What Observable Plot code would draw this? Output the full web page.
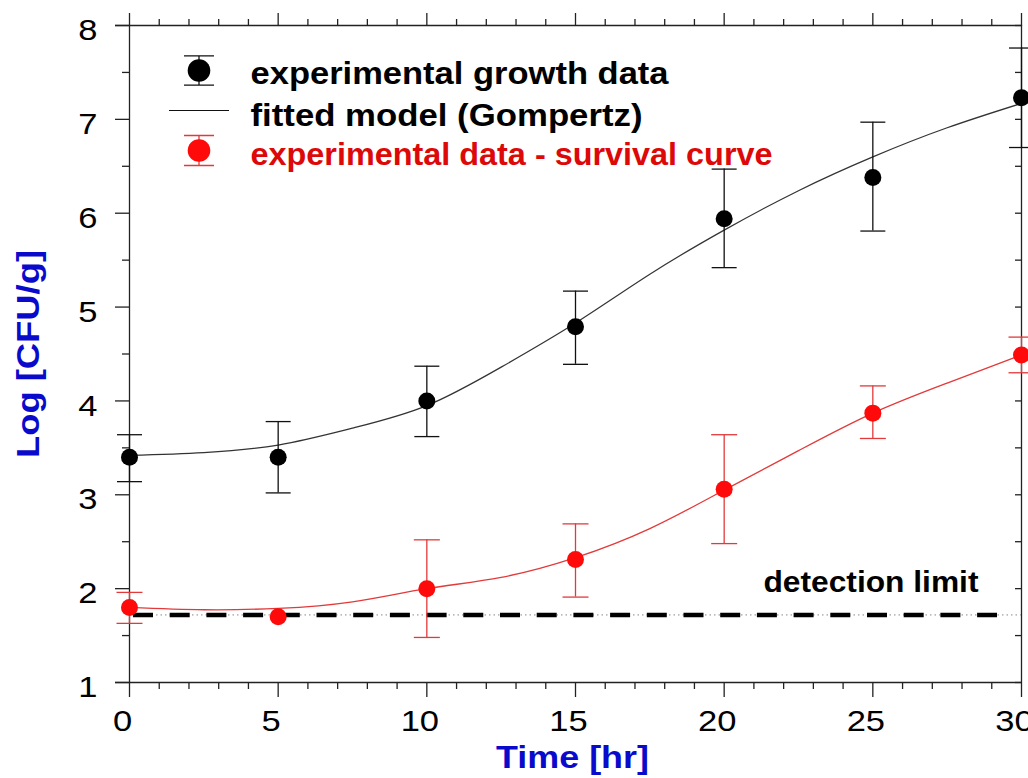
<!DOCTYPE html>
<html><head><meta charset="utf-8">
<script src="https://cdn.jsdelivr.net/npm/d3@7"></script>
<script src="https://cdn.jsdelivr.net/npm/@observablehq/plot@0.6"></script>
<style>
html,body{margin:0;padding:0;background:#fff;overflow:hidden;}
#chart svg{display:block;overflow:hidden;}
</style></head><body><div id="chart"></div>
<script>
// ---- data ----
const times = [0, 5, 10, 15, 20, 25, 30];
const growthMean = [3.40, 3.40, 4.00, 4.79, 5.94, 6.38, 7.23];
const growthLow  = [3.14, 3.02, 3.62, 4.39, 5.42, 5.81, 6.70];
const growthHigh = [3.64, 3.78, 4.37, 5.17, 6.47, 6.97, 7.76];
const survivalMean = [1.80, 1.70, 2.00, 2.31, 3.06, 3.87, 4.49];
const survivalLow  = [1.63, null, 1.48, 1.91, 2.48, 3.60, 4.30];
const survivalHigh = [1.96, null, 2.52, 2.69, 3.64, 4.16, 4.68];
const fitTimes = [0, 2.5, 5, 7.5, 10, 12.5, 15, 17.5, 20, 22.5, 25, 27.5, 30];
const growthFit   = [3.42, 3.45, 3.53, 3.71, 3.95, 4.36, 4.83, 5.35, 5.82, 6.24, 6.60, 6.91, 7.17];
const survivalFit = [1.80, 1.775, 1.79, 1.86, 2.00, 2.12, 2.33, 2.64, 3.05, 3.47, 3.87, 4.19, 4.49];
const detectionLimit = 1.72;
const xDomain = [0, 30];
const yDomain = [1, 8];
const xMajor = [0, 5, 10, 15, 20, 25, 30];
const xMinor = [1,2,3,4,6,7,8,9,11,12,13,14,16,17,18,19,21,22,23,24,26,27,28,29];
const yMajor = [1, 2, 3, 4, 5, 6, 7, 8];
const yMinor = [1.5, 2.5, 3.5, 4.5, 5.5, 6.5, 7.5];
const legendLabels = ["experimental growth data", "fitted model (Gompertz)", "experimental data - survival curve"];
const xTitle = "Time [hr]";
const yTitle = "Log [CFU/g]";
const detectionLabel = "detection limit";

// ---- tables ----
const growth = times.map((t, i) => ({t, y: growthMean[i], lo: growthLow[i], hi: growthHigh[i]}));
const survival = times.map((t, i) => ({t, y: survivalMean[i], lo: survivalLow[i], hi: survivalHigh[i]}));
const survivalBars = survival.filter(d => d.lo != null);
const growthCurve = fitTimes.map((t, i) => ({t, y: growthFit[i]}));
const survivalCurve = fitTimes.map((t, i) => ({t, y: survivalFit[i]}));

const cap = {draw(ctx, size) { const r = Math.sqrt(size / Math.PI); ctx.moveTo(-r, 0); ctx.lineTo(r, 0); }};
const errGlyph = (h, w) => ({draw(ctx) { ctx.moveTo(-w, -h); ctx.lineTo(w, -h); ctx.moveTo(0, -h); ctx.lineTo(0, h); ctx.moveTo(-w, h); ctx.lineTo(w, h); }});
const hLine = w => ({draw(ctx) { ctx.moveTo(-w, 0); ctx.lineTo(w, 0); }});

const FONT = "'Liberation Sans', Arial, sans-serif";
const BLUE = "#0a0acc";
const RED = "#ff0a0a";
const RED_LINE = "#e23a3a";
const AX = "#222";

const chart = Plot.plot({
  width: 1028, height: 778,
  marginLeft: 129, marginRight: 7, marginTop: 25, marginBottom: 96,
  style: {fontFamily: FONT, background: "white", overflow: "hidden"},
  x: {domain: xDomain},
  y: {domain: yDomain},
  marks: [
    // axes: ticks
    Plot.axisX(xMajor, {anchor: "bottom", tickSize: 15, fill: "none", stroke: AX, strokeWidth: 1.3}),
    Plot.axisX(xMinor, {anchor: "bottom", tickSize: 7, fill: "none", stroke: AX, strokeWidth: 1.3}),
    Plot.axisX(xMajor, {anchor: "top", tickSize: 13, fill: "none", stroke: AX, strokeWidth: 1.3}),
    Plot.axisX(xMinor, {anchor: "top", tickSize: 7, fill: "none", stroke: AX, strokeWidth: 1.3}),
    Plot.axisY(yMajor, {anchor: "left", tickSize: 14, fill: "none", stroke: AX, strokeWidth: 1.3}),
    Plot.axisY(yMinor, {anchor: "left", tickSize: 7, fill: "none", stroke: AX, strokeWidth: 1.3}),
    Plot.axisY(yMajor.concat(yMinor), {anchor: "right", tickSize: 7, dx: -7, fill: "none", stroke: AX, strokeWidth: 1.3}),
    // axes: labels
    Plot.axisX(xMajor, {anchor: "bottom", tickSize: 15, tickPadding: 12, stroke: "none", fill: "black", fontSize: 30, dx: -7, label: null, tickFormat: d => String(d)}),
    Plot.axisY(yMajor, {anchor: "left", tickSize: 14, tickPadding: 18, stroke: "none", fill: "black", fontSize: 30, dy: 5, label: null, tickFormat: d => String(d)}),
    // frame
    Plot.ruleX(xDomain, {stroke: AX, strokeWidth: 1.3}),
    Plot.ruleY(yDomain, {stroke: AX, strokeWidth: 1.3, insetLeft: -14}),
    // titles
    Plot.text([xTitle], {text: d => d, frameAnchor: "bottom", lineAnchor: "middle", textAnchor: "middle", dy: 75, dx: -3, fontSize: 32, fontWeight: "bold", fill: BLUE}),
    Plot.text([yTitle], {text: d => d, frameAnchor: "left", lineAnchor: "middle", textAnchor: "middle", rotate: -90, dx: -101, fontSize: 32, fontWeight: "bold", fill: BLUE}),
    // detection limit
    Plot.ruleY([detectionLimit], {stroke: "#888", strokeWidth: 1, strokeDasharray: "1.5,3"}),
    Plot.ruleY([detectionLimit], {stroke: "black", strokeWidth: 4.5, strokeDasharray: "20,16.7", insetLeft: 4, insetRight: 24}),
    Plot.text([detectionLabel], {text: d => d, y: () => detectionLimit, frameAnchor: "right", textAnchor: "end", lineAnchor: "middle", dx: -43, dy: -33, fontSize: 30, fontWeight: "bold", fill: "black"}),
    // fitted curves
    Plot.line(growthCurve, {x: "t", y: "y", curve: "natural", stroke: "#333", strokeWidth: 1.2}),
    Plot.line(survivalCurve, {x: "t", y: "y", curve: "natural", stroke: RED_LINE, strokeWidth: 1.3}),
    // error bars
    Plot.ruleX(growth, {x: "t", y1: "lo", y2: "hi", stroke: "#111", strokeWidth: 1.3}),
    Plot.dot(growth, {x: "t", y: "lo", symbol: cap, r: 12.5, fill: "none", stroke: "#111", strokeWidth: 1.3}),
    Plot.dot(growth, {x: "t", y: "hi", symbol: cap, r: 12.5, fill: "none", stroke: "#111", strokeWidth: 1.3}),
    Plot.ruleX(survivalBars, {x: "t", y1: "lo", y2: "hi", stroke: RED_LINE, strokeWidth: 1.3}),
    Plot.dot(survivalBars, {x: "t", y: "lo", symbol: cap, r: 13, fill: "none", stroke: RED_LINE, strokeWidth: 1.3}),
    Plot.dot(survivalBars, {x: "t", y: "hi", symbol: cap, r: 13, fill: "none", stroke: RED_LINE, strokeWidth: 1.3}),
    // points
    Plot.dot(growth, {x: "t", y: "y", r: 8.5, fill: "black", stroke: "none"}),
    Plot.dot(survival, {x: "t", y: "y", r: 8.5, fill: RED, stroke: "none"}),
    // legend
    Plot.dot([0], {frameAnchor: "top-left", dx: 69.5, dy: 45, symbol: errGlyph(14.7, 15), fill: "none", stroke: "#111", strokeWidth: 1.3}),
    Plot.dot([0], {frameAnchor: "top-left", dx: 69.5, dy: 45, r: 11.3, fill: "black", stroke: "none"}),
    Plot.dot([0], {frameAnchor: "top-left", dx: 69.5, dy: 85, symbol: hLine(30), fill: "none", stroke: "#111", strokeWidth: 1.2}),
    Plot.dot([0], {frameAnchor: "top-left", dx: 69.5, dy: 125, symbol: errGlyph(15, 15), fill: "none", stroke: RED_LINE, strokeWidth: 1.3}),
    Plot.dot([0], {frameAnchor: "top-left", dx: 69.5, dy: 125, r: 11.3, fill: RED, stroke: "none"}),
    Plot.text([legendLabels[0]], {text: d => d, frameAnchor: "top-left", textAnchor: "start", lineAnchor: "middle", dx: 121, dy: 48, fontSize: 32, fontWeight: "bold", fill: "black"}),
    Plot.text([legendLabels[1]], {text: d => d, frameAnchor: "top-left", textAnchor: "start", lineAnchor: "middle", dx: 121, dy: 90, fontSize: 32, fontWeight: "bold", fill: "black"}),
    Plot.text([legendLabels[2]], {text: d => d, frameAnchor: "top-left", textAnchor: "start", lineAnchor: "middle", dx: 121, dy: 129.5, fontSize: 32, fontWeight: "bold", fill: "#dd0808"})
  ]
});
document.getElementById("chart").appendChild(chart);

// widen glyphs horizontally to match the reference's stretched lettering
const targetWidths = new Map([
  [legendLabels[0], 418], [legendLabels[1], 392], [legendLabels[2], 522],
  [detectionLabel, 215], [xTitle, 153], [yTitle, 208]
]);
const tickStrings = new Set(xMajor.concat(yMajor).map(String));
chart.querySelectorAll("text").forEach(el => {
  const s = el.textContent.trim();
  let t = null;
  if (targetWidths.has(s)) t = targetWidths.get(s);
  else if (tickStrings.has(s)) t = el.getComputedTextLength() * 1.15;
  if (t) {
    el.setAttribute("textLength", t);
    el.setAttribute("lengthAdjust", "spacingAndGlyphs");
  }
});
</script></body></html>
